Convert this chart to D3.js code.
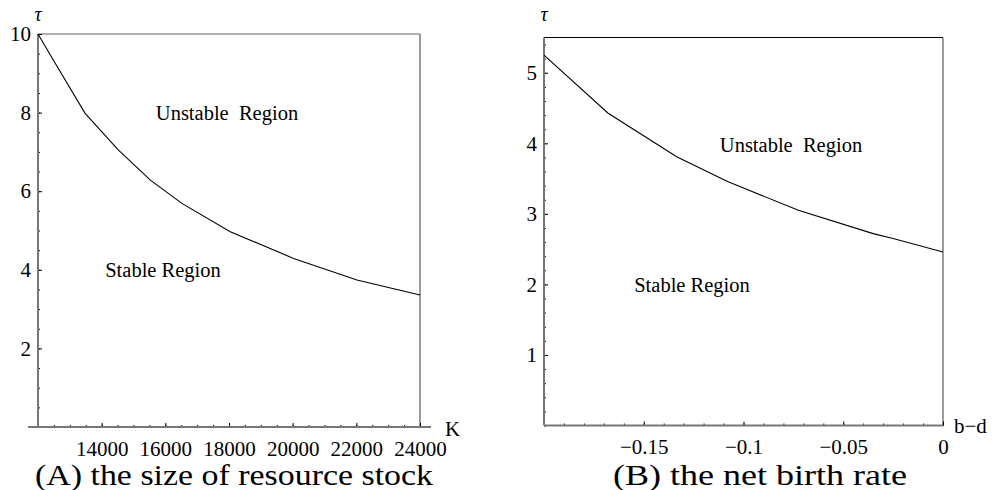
<!DOCTYPE html>
<html>
<head>
<meta charset="utf-8">
<script src="https://cdn.jsdelivr.net/npm/d3@7"></script>
<style>
  body { margin: 0; background: #fff; }
  svg text { font-family: "Liberation Serif", Tinos, "Times New Roman", Times, "DejaVu Serif", serif; fill: #000; white-space: pre; }
</style>
</head>
<body>
<svg id="chart" width="994" height="490"></svg>
<script>
// panel A: stability boundary vs resource stock K
const kValues = [12000, 12480, 13480, 14520, 15530, 16520, 18040, 20030, 22020, 24000];
const tauA = [10, 9.34, 7.98, 7.05, 6.28, 5.69, 4.97, 4.29, 3.74, 3.36];
const kTicks = [14000, 16000, 18000, 20000, 22000, 24000];
const kMinor = d3.range(12000, 24001, 500);
const tauTicksA = [2, 4, 6, 8, 10];
const tauMinorA = d3.range(0, 10.01, 0.5);

// panel B: stability boundary vs net birth rate b-d
const bdValues = [-0.2, -0.168, -0.1335, -0.108, -0.0725, -0.035, -0.025, 0];
const tauB = [5.25, 4.43, 3.81, 3.46, 3.05, 2.72, 2.65, 2.46];
const bdTicks = [-0.15, -0.1, -0.05, 0];
const bdTickLabels = ["\u22120.15", "\u22120.1", "\u22120.05", "0"];
const bdMinor = d3.range(-0.2, 0.0001, 0.01);
const tauTicksB = [1, 2, 3, 4, 5];
const tauMinorB = d3.range(0, 5.5001, 0.2);

const svg = d3.select("#chart");

function drawPanel(cfg) {
    const g = svg.append("g");
    const x = d3.scaleLinear().domain(cfg.xDomain).range([cfg.left, cfg.right]);
    const y = d3.scaleLinear().domain(cfg.yDomain).range([cfg.bottom, cfg.top]);

    // frame (top / right)
    g.append("line")
        .attr("x1", cfg.left).attr("x2", cfg.right)
        .attr("y1", cfg.top).attr("y2", cfg.top)
        .attr("stroke", cfg.topColor).attr("stroke-width", 1.2);
    g.append("line")
        .attr("x1", cfg.right).attr("x2", cfg.right)
        .attr("y1", cfg.top).attr("y2", cfg.bottom)
        .attr("stroke", "#666").attr("stroke-width", 1.3);

    // minor ticks
    g.append("g")
        .attr("transform", `translate(0,${cfg.bottom})`)
        .call(d3.axisBottom(x).tickValues(cfg.xMinor).tickSize(-2).tickFormat(""))
        .call(a => a.select(".domain").remove());
    g.append("g")
        .attr("transform", `translate(${cfg.left},0)`)
        .call(d3.axisLeft(y).tickValues(cfg.yMinor).tickSize(-2).tickFormat(""))
        .call(a => a.select(".domain").remove());

    // major ticks with labels
    g.append("g")
        .attr("transform", `translate(0,${cfg.bottom})`)
        .call(d3.axisBottom(x).tickValues(cfg.xTicks).tickSize(-4).tickPadding(14)
            .tickFormat((d, i) => cfg.xLabels ? cfg.xLabels[i] : d))
        .call(a => a.select(".domain").remove())
        .call(a => a.selectAll("text")
            .attr("font-size", 21)
            .attr("dy", "0.71em"));
    g.append("g")
        .attr("transform", `translate(${cfg.left},0)`)
        .call(d3.axisLeft(y).tickValues(cfg.yTicks).tickSize(-4).tickPadding(7)
            .tickFormat(d3.format("d")))
        .call(a => a.select(".domain").remove())
        .call(a => a.selectAll("text")
            .attr("font-size", 21));

    // axis lines
    g.append("line")
        .attr("x1", cfg.xAxisFrom).attr("x2", cfg.xAxisTo)
        .attr("y1", cfg.bottom).attr("y2", cfg.bottom)
        .attr("stroke", "#777").attr("stroke-width", 2);
    g.append("line")
        .attr("x1", cfg.left).attr("x2", cfg.left)
        .attr("y1", cfg.top).attr("y2", cfg.bottom)
        .attr("stroke", "#777").attr("stroke-width", 2);

    // curve
    const pts = cfg.xs.map((v, i) => [v, cfg.ys[i]]);
    g.append("path")
        .datum(pts)
        .attr("fill", "none")
        .attr("stroke", "#000")
        .attr("stroke-width", 1.1)
        .attr("d", d3.line().x(d => x(d[0])).y(d => y(d[1])));

    // region labels
    g.append("text")
        .attr("x", cfg.unstable[0]).attr("y", cfg.unstable[1])
        .attr("text-anchor", "middle").attr("font-size", 20.5)
        .text("Unstable  Region");
    g.append("text")
        .attr("x", cfg.stable[0]).attr("y", cfg.stable[1])
        .attr("text-anchor", "middle").attr("font-size", 20.5)
        .text("Stable Region");

    // axis names
    g.append("text")
        .attr("x", cfg.left).attr("y", 21)
        .attr("text-anchor", "middle").attr("font-size", 20)
        .attr("font-style", "italic")
        .text("\u03c4");
    g.append("text")
        .attr("x", cfg.xNamePos[0]).attr("y", cfg.xNamePos[1])
        .attr("font-size", 21)
        .text(cfg.xName);

    // caption
    g.append("text")
        .attr("x", cfg.caption[0]).attr("y", 485)
        .attr("text-anchor", "middle")
        .attr("font-size", 29)
        .attr("textLength", cfg.caption[1])
        .attr("lengthAdjust", "spacingAndGlyphs")
        .text(cfg.caption[2]);
}

drawPanel({
    xDomain: [12000, 24000], yDomain: [0, 10],
    left: 38, right: 420, top: 34, bottom: 427,
    xAxisFrom: 28, xAxisTo: 431,
    topColor: "#666",
    xTicks: kTicks, xMinor: kMinor, yTicks: tauTicksA, yMinor: tauMinorA,
    xs: kValues, ys: tauA,
    unstable: [227, 120], stable: [163, 277],
    xName: "K", xNamePos: [445, 436],
    caption: [234, 398, "(A) the size of resource stock"]
});

drawPanel({
    xDomain: [-0.2, 0], yDomain: [0, 5.5],
    left: 544, right: 943, top: 37.5, bottom: 425.5,
    xAxisFrom: 544, xAxisTo: 943,
    topColor: "#000",
    xTicks: bdTicks, xLabels: bdTickLabels, xMinor: bdMinor, yTicks: tauTicksB, yMinor: tauMinorB,
    xs: bdValues, ys: tauB,
    unstable: [791, 152], stable: [692, 292],
    xName: "b\u2212d", xNamePos: [954, 433],
    caption: [760, 294, "(B) the net birth rate"]
});
</script>
</body>
</html>
